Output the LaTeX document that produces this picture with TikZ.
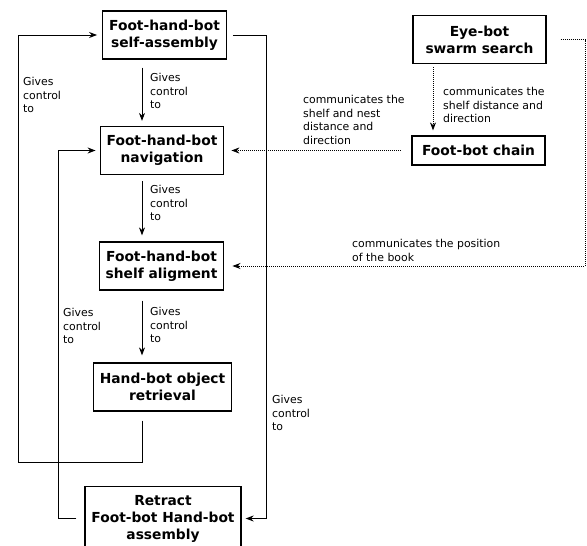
\documentclass[tikz,border=0pt]{standalone}
\usepackage{fontspec}
\setmainfont{DejaVu Sans}
\usetikzlibrary{positioning, arrows.meta, calc}

\begin{document}
\begin{tikzpicture}[
  x=1pt, y=-1pt,
  task/.style={draw, line width=1.2pt, font=\bfseries\fontsize{13.8}{17}\selectfont,
    align=center, inner xsep=6.5pt, minimum height=48pt},
  eyetask/.style={task, minimum width=133pt},
  note/.style={font=\fontsize{10.9}{13.6}\selectfont, align=left, inner sep=0pt, anchor=north west},
  ctrl/.style={-{Stealth[length=8pt, width=6pt]}, line width=0.9pt},
  comm/.style={ctrl, line width=0.8pt, dash pattern=on 0.8pt off 1.2pt}
]
  \useasboundingbox (0,0) rectangle (587,546);

  % behaviours of the foot-hand-bot
  \node[task] (assembly) at (164.5,35) {Foot-hand-bot\\self-assembly};
  \node[task] (navigation) at (162,150.5) {Foot-hand-bot\\navigation};
  \node[task] (alignment) at (161.5,266) {Foot-hand-bot\\shelf aligment};
  \node[task] (retrieval) at (162.5,387) {Hand-bot object\\retrieval};
  \node[task, minimum height=64pt] (retract) at (163,518.5) {Retract\\Foot-bot Hand-bot\\assembly};

  % eye-bots and foot-bots
  \node[eyetask] (search) at (479.5,39.5) {Eye-bot\\swarm search};
  \node[eyetask, minimum height=29pt] (chain) at (478.5,150.5) {Foot-bot chain};

  \coordinate (spine) at (142,0);
  \coordinate (eyeaxis) at (433,0);
  \coordinate (innerL) at (58,0);
  \coordinate (outerR) at (266,0);
  \coordinate (bookR) at (585,0);
  \coordinate (loopbottom) at (18,462);

  \draw[ctrl, shorten <=8pt, shorten >=5pt] (assembly.south -| spine) -- (navigation.north -| spine);
  \draw[ctrl, shorten <=6pt, shorten >=6pt] (navigation.south -| spine) -- (alignment.north -| spine);
  \draw[ctrl, shorten <=10pt, shorten >=7pt] (alignment.south -| spine) -- (retrieval.north -| spine);
  \draw[ctrl, shorten <=9pt, shorten >=5pt] (retrieval.south -| spine) |- (loopbottom) |- (assembly.west);
  \draw[ctrl, shorten <=8pt, shorten >=4pt] (retract.west) -| (innerL |- navigation.west) -- (navigation.west);
  \draw[ctrl, shorten <=6pt, shorten >=4pt] (assembly.east) -| (outerR |- retract.east) -- (retract.east);

  \draw[comm, shorten <=3pt, shorten >=5pt] (search.south -| eyeaxis) -- (chain.north -| eyeaxis);
  \draw[comm, shorten <=11pt, shorten >=7pt] (chain.west) -- (navigation.east);
  \draw[comm, shorten <=14pt, shorten >=8pt] (search.east) -| (bookR |- alignment.east) -- (alignment.east);

  % labels
  \node[note] (give1) at (150,73) {Gives\\control\\to};
  \node[note] (give2) at (150,185) {Gives\\control\\to};
  \node[note] (give3) at (150,307) {Gives\\control\\to};
  \node[note] (giveL) at (23,77) {Gives\\control\\to};
  \node[note] (giveI) at (63,308) {Gives\\control\\to};
  \node[note] (giveR) at (272,395) {Gives\\control\\to};
  \node[note] (tellchain) at (443,87) {communicates the\\shelf distance and\\direction};
  \node[note] (tellnav) at (303,95) {communicates the\\shelf and nest\\distance and\\direction};
  \node[note] (tellbook) at (352,239) {communicates the position\\of the book};
\end{tikzpicture}
\end{document}
